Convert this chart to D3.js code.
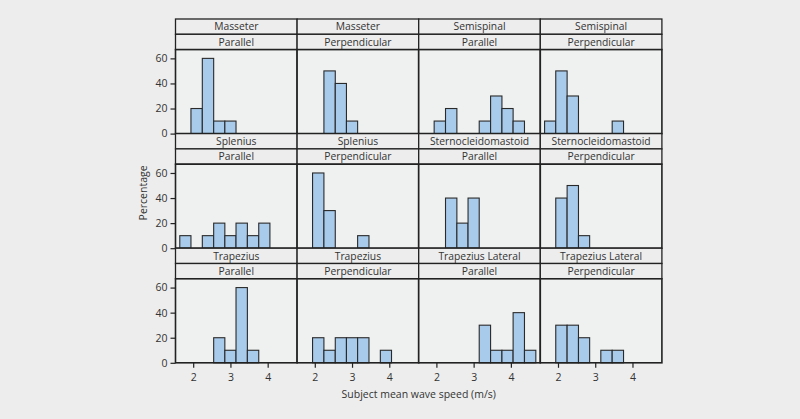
<!DOCTYPE html>
<html><head><meta charset="utf-8">
<script src="https://cdn.jsdelivr.net/npm/d3@7"></script>
<style>html,body{margin:0;padding:0;background:#ededed;}svg{display:block;}</style>
</head><body>
<svg id="c" width="800" height="419"></svg>
<script>
// ---- data ----
const panelTitles = [
  ["Masseter","Parallel"],["Masseter","Perpendicular"],["Semispinal","Parallel"],["Semispinal","Perpendicular"],
  ["Splenius","Parallel"],["Splenius","Perpendicular"],["Sternocleidomastoid","Parallel"],["Sternocleidomastoid","Perpendicular"],
  ["Trapezius","Parallel"],["Trapezius","Perpendicular"],["Trapezius Lateral","Parallel"],["Trapezius Lateral","Perpendicular"]
];
const binEdges = [1.64,1.94,2.245,2.55,2.85,3.15,3.455,3.76,4.06,4.365,4.67];
const masseterParallel        = [0,20,60,10,10,0,0,0,0,0];
const masseterPerpendicular   = [0,0,50,40,10,0,0,0,0,0];
const semispinalParallel      = [0,10,20,0,0,10,30,20,10,0];
const semispinalPerpendicular = [10,50,30,0,0,0,10,0,0,0];
const spleniusParallel        = [10,0,10,20,10,20,10,20,0,0];
const spleniusPerpendicular   = [0,60,30,0,0,10,0,0,0,0];
const scmParallel             = [0,0,40,20,40,0,0,0,0,0];
const scmPerpendicular        = [0,40,50,10,0,0,0,0,0,0];
const trapeziusParallel       = [0,0,0,20,10,60,10,0,0,0];
const trapeziusPerpendicular  = [0,20,10,20,20,20,0,10,0,0];
const trapLatParallel         = [0,0,0,0,0,30,10,10,40,10];
const trapLatPerpendicular    = [0,30,30,20,0,10,10,0,0,0];
const panelValues = [masseterParallel,masseterPerpendicular,semispinalParallel,semispinalPerpendicular,
  spleniusParallel,spleniusPerpendicular,scmParallel,scmPerpendicular,
  trapeziusParallel,trapeziusPerpendicular,trapLatParallel,trapLatPerpendicular];
const xTicks = [2,3,4];
const yTicks = [0,20,40,60];
const xTitle = "Subject mean wave speed (m/s)";
const yTitle = "Percentage";

// ---- layout ----
const svg = d3.select("#c");
const left = 175.5, colW = 121.6, top0 = 19, stripH = 15.3, plotH = 84, rowH = 2*stripH + plotH;
const font = "'Open Sans', sans-serif";
const ink = "#222";
const txt = "#333";

const y = d3.scaleLinear().domain([0, 67]).range([plotH, 0]);

panelValues.forEach((vals, i) => {
  const r = Math.floor(i/4), c = i%4;
  const x0 = left + c*colW, y0 = top0 + r*rowH;
  const x = d3.scaleLinear().domain([1.525, 4.79]).range([0, colW]);
  const g = svg.append("g").attr("transform", `translate(${x0},${y0})`);
  // strips
  panelTitles[i].forEach((t, k) => {
    g.append("rect").attr("x",0).attr("y",k*stripH).attr("width",colW).attr("height",stripH)
      .attr("fill","#ededed").attr("stroke",ink).attr("stroke-width",1.3);
    g.append("text").attr("x",colW/2).attr("y",k*stripH+stripH/2+3.7).attr("text-anchor","middle")
      .attr("font-family",font).attr("font-size",10.3).attr("fill",txt).text(t);
  });
  const p = g.append("g").attr("transform",`translate(0,${2*stripH})`);
  p.append("rect").attr("width",colW).attr("height",plotH).attr("fill","#eff0f0");
  const bins = vals.map((v,j)=>({x0:binEdges[j],x1:binEdges[j+1],v})).filter(d=>d.v>0);
  p.selectAll("rect.bar").data(bins).join("rect").attr("class","bar")
    .attr("x",d=>x(d.x0)).attr("width",d=>x(d.x1)-x(d.x0))
    .attr("y",d=>y(d.v)).attr("height",d=>y(0)-y(d.v))
    .attr("fill","#a8cbeb").attr("stroke","#2a2a2a").attr("stroke-width",1.1);
  // borders
  p.append("rect").attr("width",colW).attr("height",plotH).attr("fill","none")
    .attr("stroke",ink).attr("stroke-width",1.6);
  if (c===0) {
    const ax = p.append("g").call(d3.axisLeft(y).tickValues(yTicks).tickFormat(d3.format("d")).tickSize(5).tickPadding(3));
    ax.select(".domain").remove();
    ax.selectAll("line").attr("stroke",ink).attr("stroke-width",1.2);
    ax.selectAll("text").attr("font-family",font).attr("font-size",10.5).attr("fill",txt);
  }
  if (r===2) {
    const ax = p.append("g").attr("transform",`translate(0,${plotH})`)
      .call(d3.axisBottom(x).tickValues(xTicks).tickFormat(d3.format("d")).tickSize(5).tickPadding(6));
    ax.select(".domain").remove();
    ax.selectAll("line").attr("stroke",ink).attr("stroke-width",1.2);
    ax.selectAll("text").attr("font-family",font).attr("font-size",10.5).attr("fill",txt);
  }
});

svg.append("text").attr("x", left + 2*colW).attr("y", 398).attr("text-anchor","middle")
  .attr("font-family",font).attr("font-size",10.5).attr("fill",txt).text(xTitle);
svg.append("text").attr("transform",`translate(147,${top0 + rowH*1.5 + 2})rotate(-90)`).attr("text-anchor","middle")
  .attr("font-family",font).attr("font-size",10.5).attr("fill",txt).text(yTitle);
</script>
</body></html>
